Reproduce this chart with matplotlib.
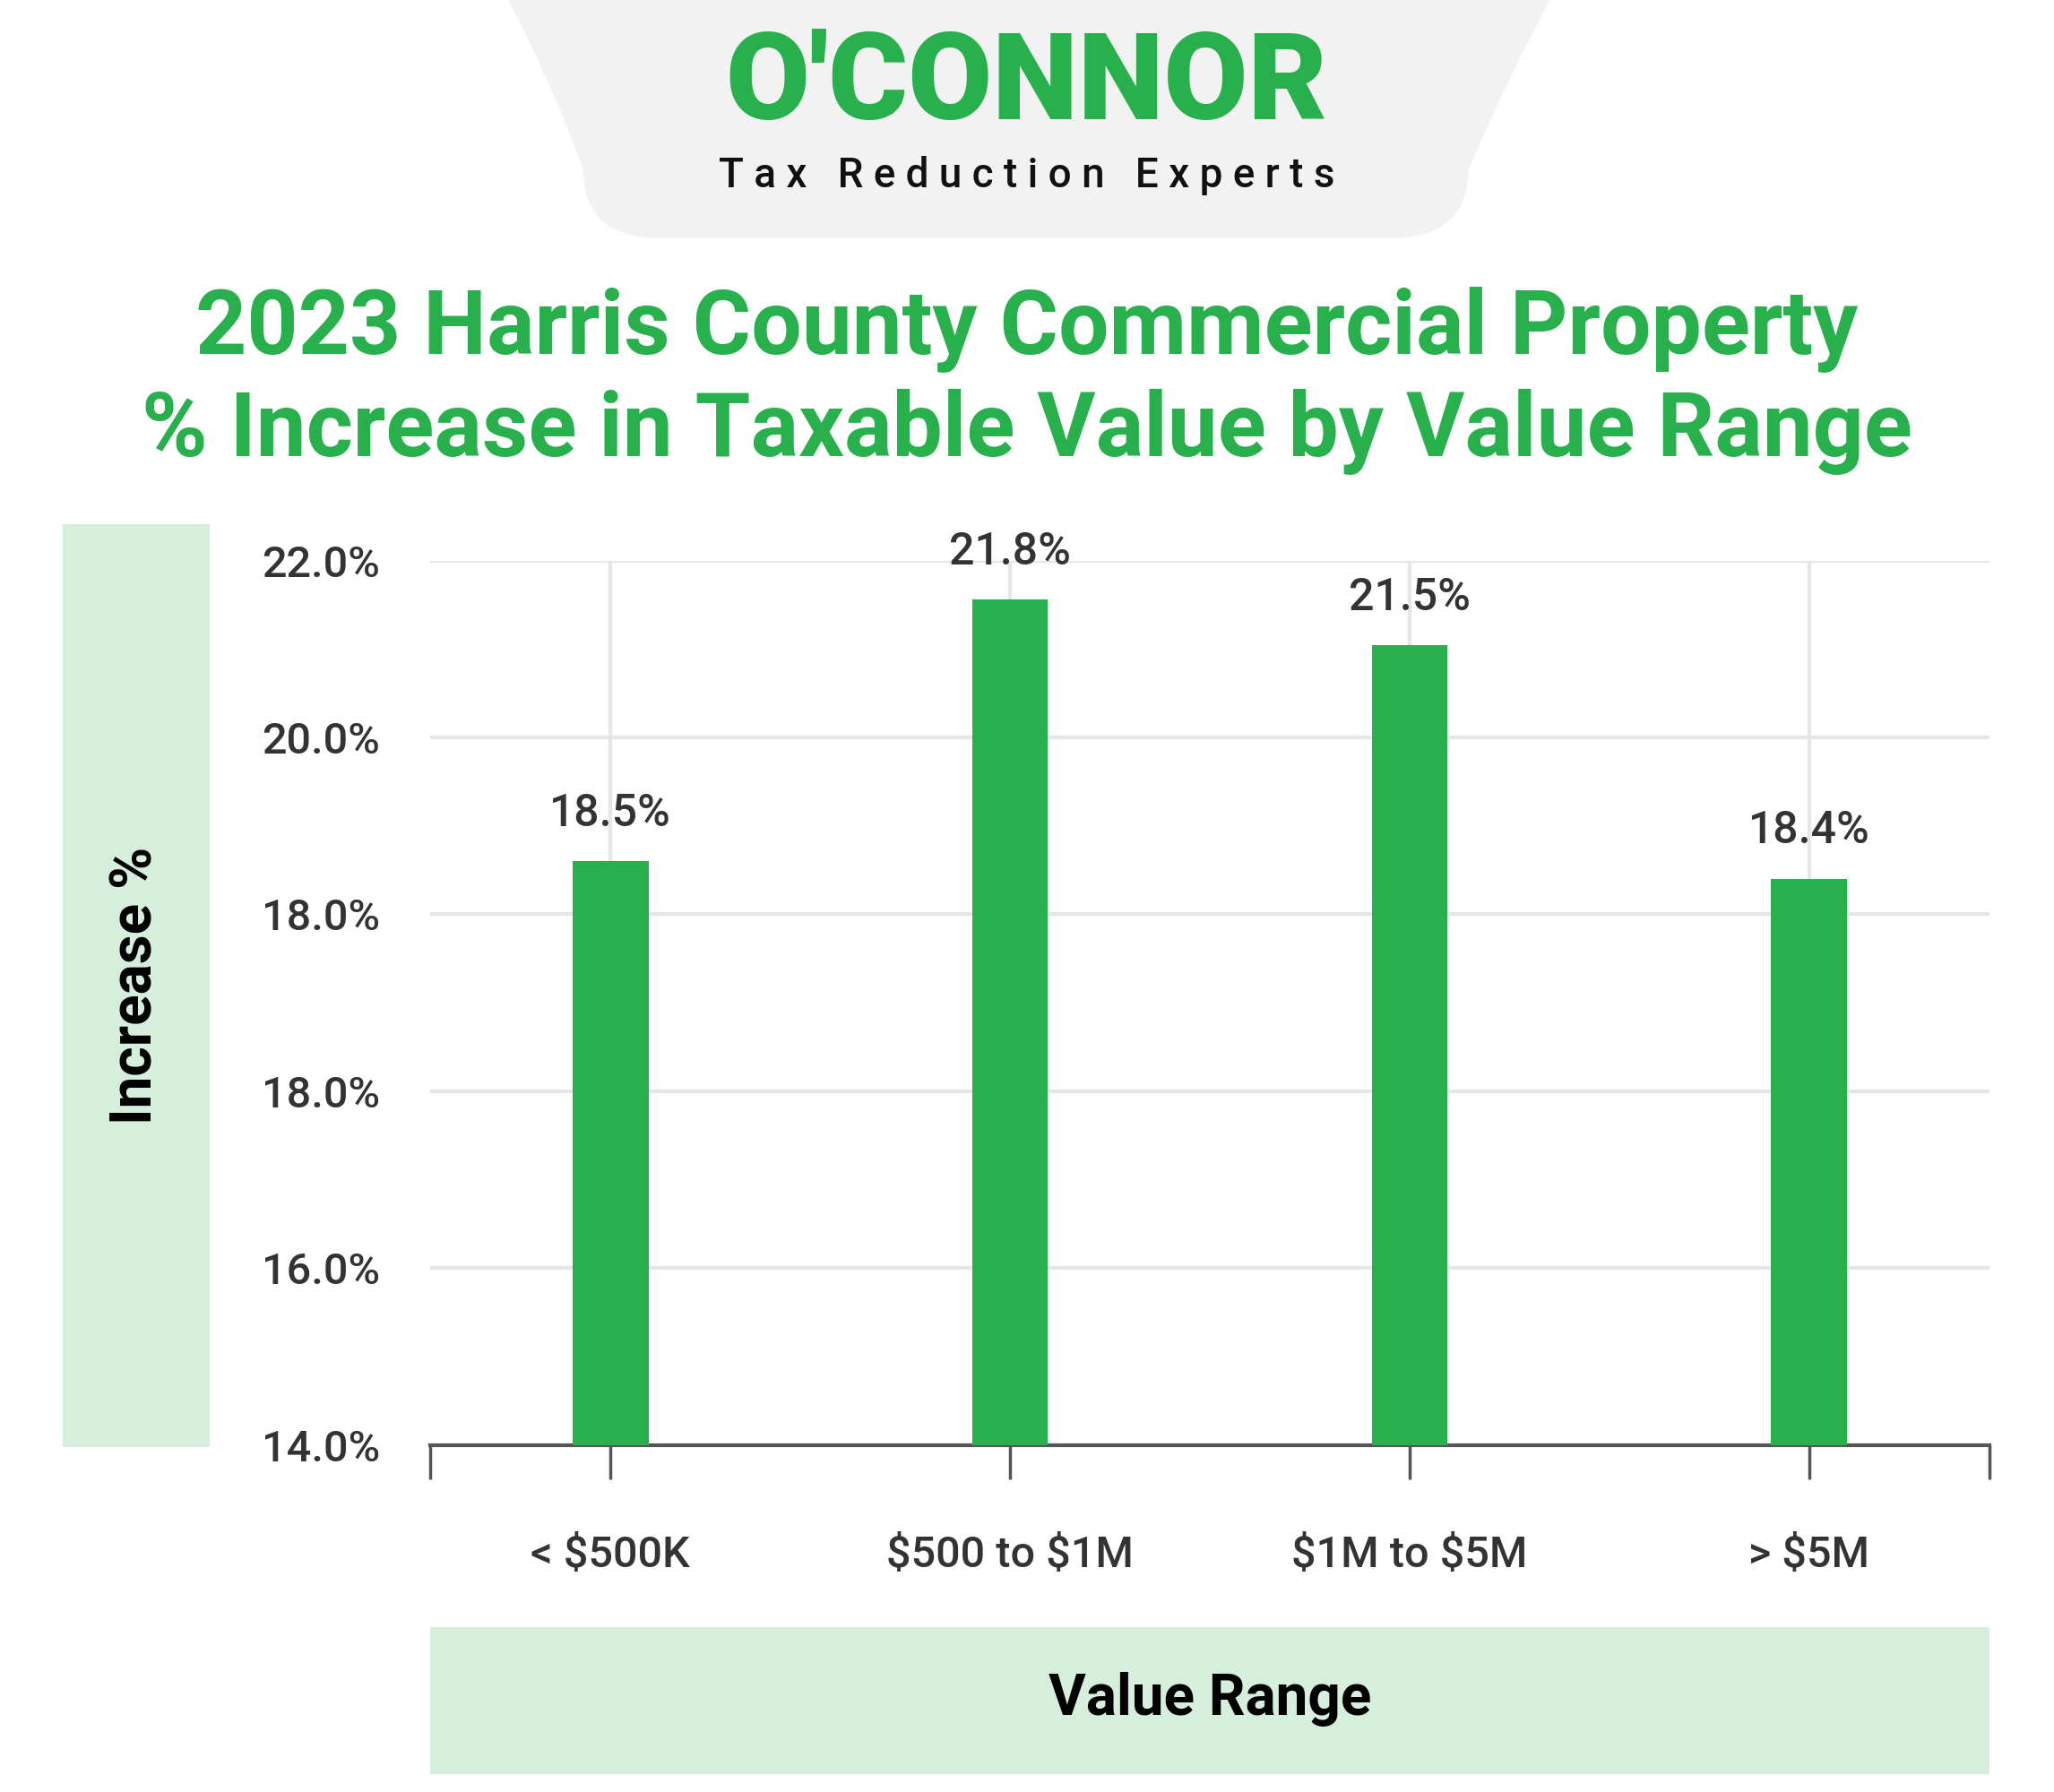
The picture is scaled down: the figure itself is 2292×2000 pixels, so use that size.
import matplotlib.pyplot as plt
from matplotlib.patches import Rectangle, PathPatch
from matplotlib.path import Path

plt.rcParams["font.family"] = "Roboto"

categories = ["< \\$500K", "\\$500 to \\$1M", "\\$1M to \\$5M", "> \\$5M"]
bar_labels = ["18.5%", "21.8%", "21.5%", "18.4%"]
# bar heights as drawn on the (evenly spaced) axis of the picture
bar_heights = [20.6, 23.56, 23.04, 20.4]
tick_values = [14, 16, 18, 20, 22, 24]
tick_labels = ["14.0%", "16.0%", "18.0%", "18.0%", "20.0%", "22.0%"]

GREEN = "#27B04B"
PALE = "#D5EFDC"
W, H = 1567, 1368  # reference layout units


def fx(x):
    return x / W


def fy(y):
    return 1 - y / H


fig = plt.figure(figsize=(22.92, 20), dpi=100)

# logo block: sloped sides with rounded bottom
verts = [(385, -5), (420, 60), (445, 130), (445, 182), (505, 182), (1060, 182),
         (1120, 182), (1120, 130), (1150, 60), (1185, -5), (385, -5)]
codes = [Path.MOVETO, Path.CURVE3, Path.CURVE3, Path.CURVE3, Path.CURVE3, Path.LINETO,
         Path.CURVE3, Path.CURVE3, Path.CURVE3, Path.CURVE3, Path.CLOSEPOLY]
logo = Path([(fx(a), fy(b)) for a, b in verts], codes)
fig.patches.append(PathPatch(logo, transform=fig.transFigure, fc="#F2F2F2", ec="none"))
fig.text(0.5, fy(66), "O'CONNOR", ha="center", va="center", fontsize=98,
         fontweight="black", color=GREEN)
fig.text(0.5, fy(134), "T a x   R e d u c t i o n   E x p e r t s", ha="center",
         va="center", fontsize=33, fontweight="medium", color="#111111")

fig.text(0.5, fy(252), "2023 Harris County Commercial Property", ha="center",
         va="center", fontsize=72, fontweight="bold", color=GREEN)
fig.text(0.5, fy(330), "% Increase in Taxable Value by Value Range", ha="center",
         va="center", fontsize=72, fontweight="bold", color=GREEN)

# label boxes
fig.patches.append(Rectangle((fx(48), fy(1105)), fx(112), fy(400) - fy(1105),
                             transform=fig.transFigure, fc=PALE, ec="none"))
fig.text(fx(104), fy(752), "Increase %", rotation=90, ha="center", va="center",
         fontsize=46, fontweight="bold", color="black")
fig.patches.append(Rectangle((fx(328), fy(1354)), fx(1190), fy(1242) - fy(1354),
                             transform=fig.transFigure, fc=PALE, ec="none"))
fig.text(fx(923), fy(1297), "Value Range", ha="center", va="center",
         fontsize=46, fontweight="bold", color="black")

ax = fig.add_axes([fx(328), fy(1103), fx(1190), fy(428) - fy(1103)])
x = range(len(categories))
ax.bar(x, bar_heights, width=0.19, color=GREEN, zorder=3)
for xi, h, lab in zip(x, bar_heights, bar_labels):
    ax.text(xi, h + 0.3, lab, ha="center", va="bottom", fontsize=36,
            fontweight="medium", color="#333333", zorder=4)

ax.set_ylim(14, 24)
ax.set_xlim(-0.452, 3.452)
ax.set_yticks(tick_values)
ax.set_yticklabels(tick_labels, fontsize=35, fontweight="medium", color="#333333")
ax.set_xticks(list(x))
ax.set_xticklabels(categories, fontsize=35, fontweight="medium", color="#333333")
ax.set_xticks([-0.452, 3.452], minor=True)
ax.tick_params(axis="y", length=0, pad=40)
ax.tick_params(axis="x", which="both", length=27, width=2.5, color="#555555",
               direction="out", pad=45)
ax.grid(True, color="#E6E6E6", linewidth=3, zorder=0)
for s in ["top", "right", "left"]:
    ax.spines[s].set_visible(False)
ax.spines["bottom"].set_color("#555555")
ax.spines["bottom"].set_linewidth(3)

fig.savefig("out.png", dpi=100)
